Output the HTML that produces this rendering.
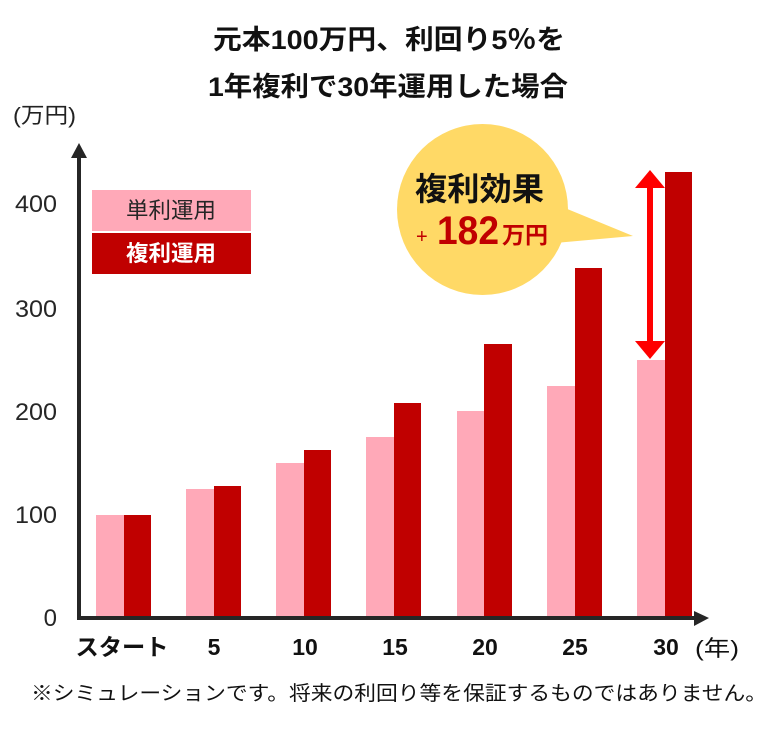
<!DOCTYPE html>
<html><head><meta charset="utf-8"><style>
html,body{margin:0;padding:0;background:#fff;}
svg{display:block;}
text{font-family:"Liberation Sans","Noto Sans CJK JP",sans-serif;}
</style></head><body>
<svg width="779" height="732" viewBox="0 0 779 732" xmlns="http://www.w3.org/2000/svg">
<!-- Title -->
<text x="389" y="49" text-anchor="middle" font-size="27" font-weight="bold" fill="#111" textLength="352" lengthAdjust="spacingAndGlyphs">元本100万円、利回り5％を</text>
<text x="388" y="96" text-anchor="middle" font-size="27" font-weight="bold" fill="#111" textLength="360" lengthAdjust="spacingAndGlyphs">1年複利で30年運用した場合</text>
<!-- unit -->
<text x="13" y="123" font-size="22" fill="#222" textLength="63" lengthAdjust="spacingAndGlyphs">(万円)</text>
<!-- y ticks -->
<g font-size="24" fill="#262626" text-anchor="end">
<text x="57" y="626">0</text>
<text x="57" y="523" textLength="42" lengthAdjust="spacingAndGlyphs">100</text>
<text x="57" y="420" textLength="42" lengthAdjust="spacingAndGlyphs">200</text>
<text x="57" y="317" textLength="42" lengthAdjust="spacingAndGlyphs">300</text>
<text x="57" y="212" textLength="42" lengthAdjust="spacingAndGlyphs">400</text>
</g>
<!-- bars -->
<g fill="#FFA9B8">
<rect x="96" y="515" width="28" height="101"/>
<rect x="186" y="489" width="28" height="127"/>
<rect x="276" y="463" width="28" height="153"/>
<rect x="366" y="437" width="28" height="179"/>
<rect x="457" y="411" width="27" height="205"/>
<rect x="547" y="386" width="28" height="230"/>
<rect x="637" y="360" width="28" height="256"/>
</g>
<g fill="#C00000">
<rect x="124" y="515" width="27" height="101"/>
<rect x="214" y="486" width="27" height="130"/>
<rect x="304" y="450" width="27" height="166"/>
<rect x="394" y="403" width="27" height="213"/>
<rect x="484" y="344" width="28" height="272"/>
<rect x="575" y="268" width="27" height="348"/>
<rect x="665" y="172" width="27" height="444"/>
</g>
<!-- axes -->
<rect x="77" y="155" width="4" height="465" fill="#262626"/>
<polygon points="79,143 71,158 87,158" fill="#262626"/>
<rect x="77" y="616" width="620" height="4" fill="#262626"/>
<polygon points="709,618 694,611 694,626" fill="#262626"/>
<!-- x labels -->
<g font-size="23" font-weight="bold" fill="#111" text-anchor="middle">
<text x="122" y="655" textLength="93" lengthAdjust="spacingAndGlyphs">スタート</text>
<text x="214" y="655">5</text>
<text x="305" y="655">10</text>
<text x="395" y="655">15</text>
<text x="485" y="655">20</text>
<text x="575" y="655">25</text>
<text x="666" y="655">30</text>
</g>
<text x="695" y="656" font-size="22" fill="#111" textLength="44" lengthAdjust="spacingAndGlyphs">(年)</text>
<!-- legend -->
<rect x="92" y="190" width="159" height="41" fill="#FFA9B8"/>
<rect x="92" y="233" width="159" height="41" fill="#C00000"/>
<text x="126" y="218" font-size="22" fill="#262626" textLength="90" lengthAdjust="spacingAndGlyphs">単利運用</text>
<text x="126" y="261" font-size="22" font-weight="bold" fill="#fff" textLength="90" lengthAdjust="spacingAndGlyphs">複利運用</text>
<!-- bubble -->
<circle cx="482.5" cy="209.5" r="85.5" fill="#FFD966"/>
<polygon points="560,206 633,236 555,243" fill="#FFD966"/>
<text x="415" y="200" font-size="32" font-weight="bold" fill="#111" textLength="129" lengthAdjust="spacingAndGlyphs">複利効果</text>
<text x="416" y="243" font-size="20" fill="#C00000">+</text>
<text x="437" y="244" font-size="40" font-weight="bold" fill="#C00000" textLength="62" lengthAdjust="spacingAndGlyphs">182</text>
<text x="502" y="243" font-size="23" font-weight="bold" fill="#C00000" textLength="46" lengthAdjust="spacingAndGlyphs">万円</text>
<!-- red double arrow -->
<rect x="647" y="185" width="6" height="158" fill="#FF0000"/>
<polygon points="650,170 635,188 665,188" fill="#FF0000"/>
<polygon points="650,359 635,341 665,341" fill="#FF0000"/>
<!-- footnote -->
<text x="31" y="700" font-size="20" fill="#111" textLength="736" lengthAdjust="spacingAndGlyphs">※シミュレーションです。将来の利回り等を保証するものではありません。</text>
</svg>
</body></html>
